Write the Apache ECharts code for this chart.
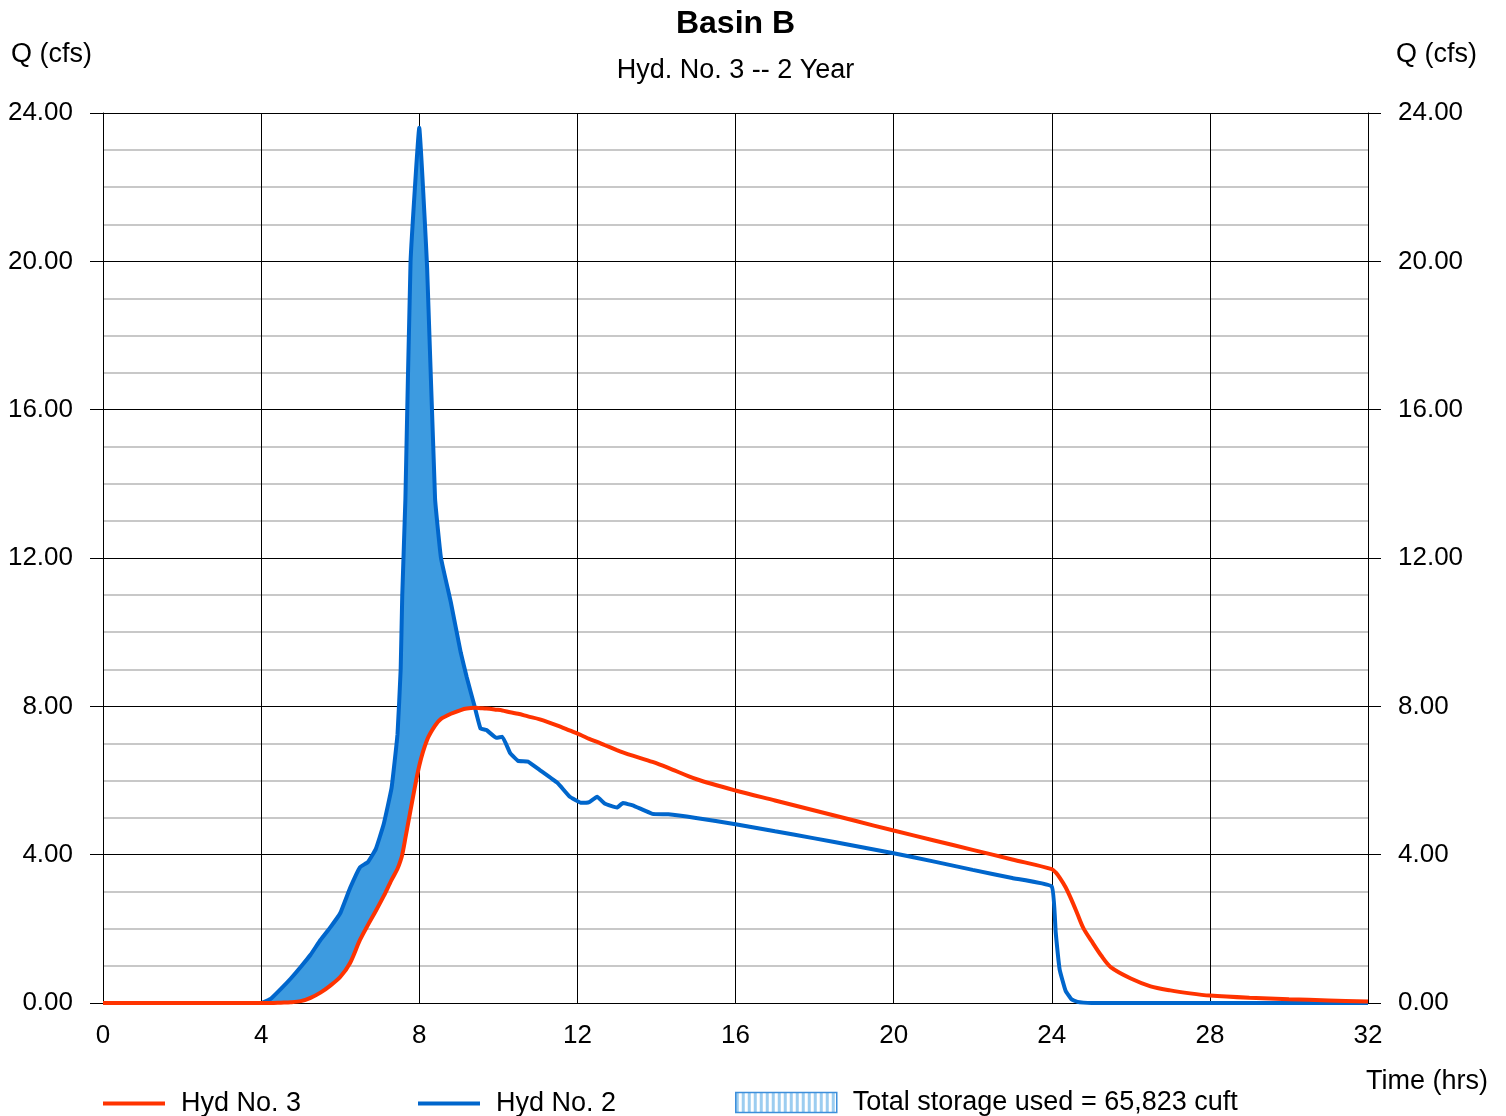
<!DOCTYPE html>
<html>
<head>
<meta charset="utf-8">
<style>
html,body{margin:0;padding:0;background:#fff;}
#chart{width:1506px;height:1116px;}
</style>
<script src="https://cdn.jsdelivr.net/npm/echarts@6/dist/echarts.min.js"></script>
</head>
<body>
<div id="chart"></div>
<script>
// Time (hrs)
const timeHrs = [0, 4, 4.25, 4.5, 4.75, 5, 5.25, 5.5, 5.75, 6, 6.25, 6.5, 6.7, 6.9, 7.1, 7.3, 7.45, 7.53, 7.57, 7.65, 7.78, 8.0, 8.2, 8.4, 8.55, 8.8, 9.05, 9.2, 9.4, 9.55, 9.7, 9.95, 10.1, 10.3, 10.5, 10.75, 11.05, 11.5, 11.8, 12.1, 12.3, 12.5, 12.7, 13.0, 13.15, 13.4, 13.9, 14.3, 15, 16, 17, 18, 19, 20, 21, 22, 23, 24, 24.1, 24.2, 24.35, 24.5, 24.65, 24.8, 25, 25.25, 25.5, 26, 26.5, 27, 27.5, 28, 29, 30, 31, 32];
// Hyd No. 2 (inflow), cfs
const hyd2 = [0, 0, 0.12, 0.38, 0.66, 0.97, 1.30, 1.70, 2.04, 2.42, 3.10, 3.66, 3.80, 4.15, 4.82, 5.80, 7.25, 9.0, 11.0, 13.6, 20.0, 23.6, 19.8, 13.6, 12.0, 10.8, 9.45, 8.79, 8.0, 7.4, 7.36, 7.15, 7.18, 6.74, 6.53, 6.51, 6.28, 5.93, 5.57, 5.40, 5.42, 5.56, 5.37, 5.27, 5.39, 5.33, 5.10, 5.09, 4.99, 4.82, 4.63, 4.44, 4.24, 4.04, 3.82, 3.59, 3.37, 3.14, 1.9, 0.9, 0.33, 0.1, 0.03, 0.01, 0, 0, 0, 0, 0, 0, 0, 0, 0, 0, 0, 0];
// Hyd No. 3 (outflow), cfs
const hyd3 = [0, 0, 0, 0.01, 0.02, 0.05, 0.14, 0.28, 0.47, 0.70, 1.08, 1.70, 2.10, 2.48, 2.88, 3.32, 3.62, 3.85, 4.00, 4.45, 5.20, 6.40, 7.10, 7.48, 7.66, 7.80, 7.90, 7.94, 7.96, 7.95, 7.94, 7.91, 7.89, 7.84, 7.80, 7.73, 7.65, 7.48, 7.35, 7.22, 7.12, 7.04, 6.95, 6.82, 6.76, 6.67, 6.50, 6.34, 6.04, 5.73, 5.46, 5.19, 4.92, 4.65, 4.39, 4.13, 3.87, 3.61, 3.52, 3.38, 3.12, 2.78, 2.40, 2.02, 1.68, 1.28, 0.96, 0.66, 0.45, 0.34, 0.26, 0.20, 0.14, 0.10, 0.07, 0.04];
const xTicks = [0, 4, 8, 12, 16, 20, 24, 28, 32];
const yTicks = [0, 4, 8, 12, 16, 20, 24];

const titleText = 'Basin B';
const subtitleText = 'Hyd. No. 3 -- 2 Year';
const name3 = 'Hyd No. 3';
const name2 = 'Hyd No. 2';
const nameStorage = 'Total storage used = 65,823 cuft';

const FONT = 'Liberation Sans, Arial, sans-serif';

const lineRed = timeHrs.map((t, i) => [t, hyd3[i]]);
const lineBlue = timeHrs.map((t, i) => [t, hyd2[i]]);

// hatch pattern for legend swatch
const pc = document.createElement('canvas');
pc.width = 6; pc.height = 20;
const pctx = pc.getContext('2d');
pctx.fillStyle = '#ffffff'; pctx.fillRect(0, 0, 6, 20);
pctx.fillStyle = '#9ccdf0'; pctx.fillRect(0, 0, 3, 20);

const chart = echarts.init(document.getElementById('chart'), null, {renderer: 'canvas'});

const yAxisCommon = {
  type: 'value', min: 0, max: 24, interval: 4,
  axisLine: {show: true, lineStyle: {color: '#000', width: 1}},
  axisTick: {show: true, inside: false, length: 13, lineStyle: {color: '#000', width: 1}},
  axisLabel: {color: '#000', fontSize: 26, fontFamily: FONT, margin: 30,
    formatter: v => v.toFixed(2)}
};

// storage polygon: region between outflow (below) and inflow (above) where inflow exceeds outflow
function renderStorage(params, api) {
  const upper = [], lower = [];
  for (let i = 0; i < timeHrs.length; i++) {
    if (timeHrs[i] > 10.5) break;
    upper.push(api.coord([timeHrs[i], Math.max(hyd2[i], hyd3[i])]));
    lower.push(api.coord([timeHrs[i], hyd3[i]]));
  }
  const pts = upper.concat(lower.reverse());
  return {
    type: 'polygon',
    shape: {points: pts},
    style: {fill: '#3d9be0', stroke: null}
  };
}

chart.setOption({
  animation: false,
  backgroundColor: '#fff',
  grid: {left: 103, right: 138, top: 113, bottom: 113, containLabel: false},
  xAxis: {
    type: 'value', min: 0, max: 32, interval: 4,
    axisLine: {show: true, lineStyle: {color: '#000', width: 1}},
    axisTick: {show: false},
    splitLine: {show: true, lineStyle: {color: '#000', width: 1}},
    axisLabel: {color: '#000', fontSize: 26, fontFamily: FONT, margin: 20,
      customValues: xTicks}
  },
  yAxis: [
    Object.assign({}, yAxisCommon, {
      position: 'left',
      splitLine: {show: true, lineStyle: {color: '#000', width: 1}},
      minorTick: {show: false, splitNumber: 4},
      minorSplitLine: {show: true, lineStyle: {color: '#c8c8c8', width: 2}}
    }),
    Object.assign({}, yAxisCommon, {
      position: 'right',
      splitLine: {show: false}
    })
  ],
  legend: [
    {data: [name3], left: 103, top: 1090, padding: 0, itemWidth: 62, itemHeight: 4, icon: 'rect',
      textStyle: {fontSize: 27, color: '#000', fontFamily: FONT, padding: [0, 0, 0, 11]}},
    {data: [name2], left: 418, top: 1090, padding: 0, itemWidth: 62, itemHeight: 4, icon: 'rect',
      textStyle: {fontSize: 27, color: '#000', fontFamily: FONT, padding: [0, 0, 0, 11]}},
    {data: [{name: nameStorage, icon: 'rect',
        itemStyle: {color: {image: pc, repeat: 'repeat'}, borderColor: '#3d8fdb', borderWidth: 1.5}}],
      left: 735, top: 1089, padding: 0, itemWidth: 101, itemHeight: 20,
      textStyle: {fontSize: 27, color: '#000', fontFamily: FONT, padding: [0, 0, 0, 11]}}
  ],
  graphic: [
    {type: 'text', x: 735.5, y: 24, style: {text: titleText, font: 'bold 32px ' + FONT, fill: '#000', align: 'center', verticalAlign: 'middle'}},
    {type: 'text', x: 735.5, y: 71, style: {text: subtitleText, font: '27px ' + FONT, fill: '#000', align: 'center', verticalAlign: 'middle'}},
    {type: 'text', left: 11, top: 41, style: {text: 'Q (cfs)', font: '27px ' + FONT, fill: '#000'}},
    {type: 'text', right: 29, top: 41, style: {text: 'Q (cfs)', font: '27px ' + FONT, fill: '#000'}},
    {type: 'text', right: 18, top: 1068, style: {text: 'Time (hrs)', font: '27px ' + FONT, fill: '#000'}}
  ],
  series: [
    {name: nameStorage, type: 'custom', renderItem: renderStorage, data: [[0, 0]], silent: true,
      itemStyle: {color: '#3d9be0'}, clip: true, z: 2},
    {name: name2, type: 'line', data: lineBlue, symbol: 'none', smooth: 0.1,
      lineStyle: {color: '#0066cc', width: 4}, itemStyle: {color: '#0066cc'}, z: 3},
    {name: name3, type: 'line', data: lineRed, symbol: 'none', smooth: 0.3,
      lineStyle: {color: '#ff3300', width: 4}, itemStyle: {color: '#ff3300'}, z: 4}
  ]
});
</script>
</body>
</html>
